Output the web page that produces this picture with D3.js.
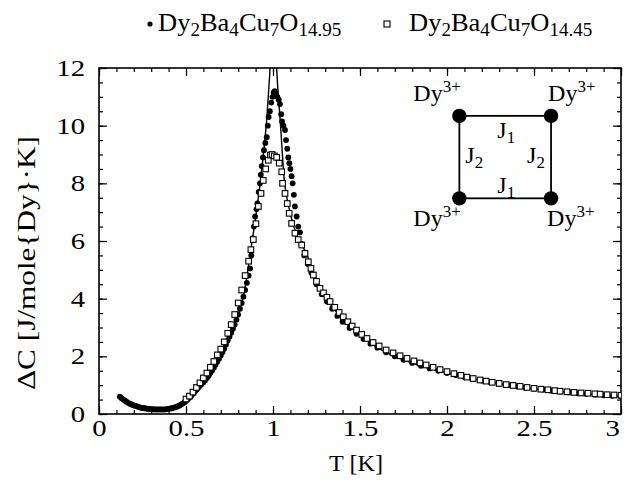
<!DOCTYPE html>
<html><head><meta charset="utf-8">
<script src="https://cdn.jsdelivr.net/npm/d3@7"></script>
<style>
body{margin:0;background:#fff}
svg{display:block}
text{font-family:"Liberation Serif","DejaVu Serif",serif;fill:#000}
</style>
</head><body>
<svg id="c" width="625" height="492"></svg>
<script>
// ---------- data ----------
const xTicks = [0, 0.5, 1, 1.5, 2, 2.5, 3];
const xTickLabels = ["0", "0.5", "1", "1.5", "2", "2.5", "3"];
const yTicks = [0, 2, 4, 6, 8, 10, 12];
const yTickLabels = ["0", "2", "4", "6", "8", "10", "12"];

// Dy2Ba4Cu7O14.95 (filled circles): [T, dC]
const series1495 = [
[0.12,0.60],[0.13,0.55],[0.14,0.50],[0.15,0.46],[0.16,0.42],[0.17,0.38],[0.18,0.35],[0.19,0.32],[0.20,0.30],
[0.21,0.28],[0.22,0.26],[0.23,0.24],[0.24,0.22],[0.25,0.21],[0.26,0.20],[0.27,0.19],[0.28,0.18],[0.29,0.175],
[0.30,0.17],[0.31,0.165],[0.32,0.16],[0.33,0.16],[0.34,0.16],[0.35,0.16],[0.36,0.16],[0.37,0.16],[0.38,0.16],
[0.39,0.17],[0.40,0.18],[0.41,0.19],[0.42,0.20],[0.43,0.22],[0.44,0.24],[0.45,0.26],[0.46,0.29],[0.47,0.32],
[0.48,0.36],[0.49,0.40],[0.50,0.45],[0.51,0.51],[0.52,0.57],[0.53,0.63],[0.54,0.70],[0.55,0.77],[0.56,0.84],
[0.57,0.91],[0.58,0.98],[0.59,1.04],[0.60,1.10],[0.61,1.17],[0.62,1.25],[0.63,1.33],[0.64,1.42],[0.65,1.51],
[0.66,1.60],[0.67,1.71],[0.68,1.82],[0.69,1.92],[0.70,2.03],[0.71,2.15],[0.72,2.27],[0.73,2.41],[0.74,2.55],
[0.75,2.68],[0.76,2.82],[0.77,2.96],[0.78,3.10],[0.79,3.27],[0.80,3.45],[0.81,3.65],[0.82,3.85],[0.83,4.07],
[0.84,4.30],[0.85,4.55],[0.86,4.80],[0.868,5.05],[0.875,5.50],[0.883,6.10],[0.89,6.50],[0.897,6.85],
[0.905,7.10],[0.91,7.30],[0.918,7.70],[0.925,8.00],[0.93,8.30],[0.935,8.60],[0.942,8.90],[0.948,9.15],
[0.956,9.40],[0.964,9.60],[0.97,10.0],[0.975,10.3],[0.982,10.5],[0.99,10.8],[0.997,11.0],[1.004,11.15],
[1.01,11.2],[1.018,11.1],[1.025,11.0],[1.033,10.9],[1.04,10.75],[1.047,10.4],[1.052,10.15],[1.06,10.0],
[1.069,9.85],[1.075,9.5],[1.082,9.2],[1.088,8.9],[1.094,8.7],[1.10,8.5],[1.107,8.25],[1.113,8.0],[1.12,7.6],
[1.126,7.2],[1.136,6.85],[1.145,6.5],[1.155,6.3],[1.165,5.9],[1.18,5.5],[1.20,5.2],[1.22,4.9],[1.25,4.5],
[1.28,4.15],[1.31,3.9],[1.34,3.65],[1.37,3.4],[1.40,3.2],[1.44,2.98],[1.48,2.78],[1.52,2.6],[1.56,2.44],
[1.60,2.3],[1.65,2.14],[1.70,2.0],[1.75,1.88],[1.80,1.77],[1.85,1.67],[1.90,1.58],[1.95,1.50],[2.00,1.42],
[2.05,1.35],[2.10,1.28],[2.15,1.22],[2.20,1.16],[2.25,1.10],[2.30,1.05],[2.35,1.00],[2.40,0.96],[2.45,0.92],
[2.50,0.88],[2.55,0.85],[2.60,0.81],[2.65,0.78],[2.70,0.75],[2.75,0.72],[2.80,0.70],[2.85,0.67],[2.90,0.65],
[2.95,0.63],[3.00,0.61]
];

// Dy2Ba4Cu7O14.45 (open squares): [T, dC]
const series1445 = [
[0.50,0.52],[0.52,0.62],
[0.54,0.76],[0.56,0.92],[0.58,1.08],[0.60,1.25],[0.62,1.42],[0.64,1.62],[0.66,1.82],[0.68,2.05],[0.70,2.25],
[0.72,2.50],[0.74,2.80],[0.76,3.10],[0.78,3.45],[0.80,3.85],[0.82,4.30],[0.84,4.80],[0.86,5.30],[0.873,5.70],
[0.887,6.05],[0.902,6.60],[0.916,7.20],[0.931,7.65],[0.944,8.10],[0.958,8.50],[0.973,8.80],[0.985,8.98],
[0.995,9.0],[1.008,8.95],[1.021,8.9],[1.036,8.7],[1.05,8.4],[1.055,8.0],[1.069,7.65],[1.082,7.3],[1.093,6.96],
[1.107,6.61],[1.126,6.27],[1.145,6.05],[1.165,5.86],[1.184,5.57],[1.203,5.28],[1.218,5.05],[1.232,4.82],
[1.25,4.6],[1.27,4.36],[1.29,4.2],[1.31,4.05],[1.328,3.9],[1.355,3.7],[1.38,3.52],[1.404,3.37],[1.43,3.2],
[1.455,3.05],[1.48,2.91],[1.51,2.76],[1.54,2.62],[1.575,2.48],[1.61,2.36],[1.65,2.22],[1.69,2.12],[1.73,2.02],
[1.77,1.93],[1.81,1.84],[1.845,1.77],[1.88,1.70],[1.92,1.62],[1.96,1.54],[2.00,1.47],[2.04,1.40],[2.08,1.34],
[2.115,1.28],[2.15,1.23],[2.19,1.18],[2.225,1.14],[2.26,1.10],[2.30,1.06],[2.34,1.02],[2.38,0.99],[2.42,0.96],
[2.46,0.92],[2.50,0.89],[2.54,0.86],[2.58,0.84],[2.62,0.81],[2.65,0.79],[2.69,0.77],[2.73,0.75],[2.77,0.73],
[2.81,0.72],[2.85,0.70],[2.88,0.69],[2.92,0.67],[2.96,0.66],[3.00,0.65]
];

// theory curve (solid line), two branches around the divergence at T = 1
const theoryLow = [
[0.13,0.55],[0.2,0.30],[0.3,0.17],[0.38,0.16],[0.45,0.27],[0.5,0.45],[0.55,0.77],[0.6,1.12],[0.65,1.52],
[0.7,2.05],[0.75,2.70],[0.8,3.45],[0.84,4.40],[0.87,5.60],[0.9,6.80],[0.93,8.20],[0.95,9.30],[0.965,10.3],
[0.977,11.4],[0.983,12.0],[0.99,13.5]
];
const theoryHigh = [
[1.013,13.5],[1.021,12.0],[1.03,11.1],[1.04,10.3],[1.065,8.1],[1.09,7.2],[1.12,6.5],[1.15,6.0],[1.19,5.6],
[1.23,4.95],[1.28,4.25],[1.35,3.65],[1.42,3.15],[1.5,2.75],[1.6,2.3],[1.7,2.0],[1.8,1.77],[1.9,1.58],
[2.0,1.42],[2.2,1.16],[2.4,0.96],[2.6,0.81],[2.8,0.70],[3.0,0.61]
];

// inset (spin plaquette) corners, in data units
const insetT = [2.071, 2.598];
const insetC = [10.34, 7.48];

// ---------- layout ----------
const FONT = '"Liberation Serif","DejaVu Serif",serif';
const WIDE = 1.25;   // the scanned type is set wider than Times
const svg = d3.select("#c");
const L = 99, R = 621, T0 = 68, B = 414;
const x = d3.scaleLinear().domain([0, 3]).range([L, R]);
const y = d3.scaleLinear().domain([0, 12]).range([B, T0]);

svg.append("defs").append("clipPath").attr("id", "clip")
  .append("rect").attr("x", L).attr("y", T0).attr("width", R - L).attr("height", B - T0);

const xMinor = d3.range(0, 3.0001, 0.1);
const yMinor = d3.range(0, 12.0001, 0.5);

function styleAxis(g) {
  g.attr("font-family", FONT);
  g.select(".domain").remove();
  g.selectAll(".tick line").attr("stroke", "#000").attr("stroke-width", 1.2);
  g.selectAll("text").style("font-family", FONT)
    .style("font-size", "23px").attr("fill", "#000");
}
// minor ticks
svg.append("g").attr("transform", `translate(0,${B})`)
  .call(d3.axisBottom(x).tickValues(xMinor).tickSize(-4).tickFormat("")).call(styleAxis);
svg.append("g").attr("transform", `translate(0,${T0})`)
  .call(d3.axisTop(x).tickValues(xMinor).tickSize(-4).tickFormat("")).call(styleAxis);
svg.append("g").attr("transform", `translate(${L},0)`)
  .call(d3.axisLeft(y).tickValues(yMinor).tickSize(-4).tickFormat("")).call(styleAxis);
svg.append("g").attr("transform", `translate(${R},0)`)
  .call(d3.axisRight(y).tickValues(yMinor).tickSize(-4).tickFormat("")).call(styleAxis);
// major ticks
const gx = svg.append("g").attr("transform", `translate(0,${B})`)
  .call(d3.axisBottom(x).tickValues(xTicks).tickSize(-8).tickPadding(6)
    .tickFormat((d, i) => xTickLabels[i])).call(styleAxis);
gx.selectAll(".tick text").attr("transform", `scale(${WIDE},1)`);
gx.selectAll(".tick text").filter(d => d === 3).attr("dx", -7);
svg.append("g").attr("transform", `translate(0,${T0})`)
  .call(d3.axisTop(x).tickValues(xTicks).tickSize(-8).tickFormat("")).call(styleAxis);
const gy = svg.append("g").attr("transform", `translate(${L},0)`)
  .call(d3.axisLeft(y).tickValues(yTicks).tickSize(-8).tickPadding(14)
    .tickFormat((d, i) => yTickLabels[i])).call(styleAxis);
gy.selectAll(".tick text").attr("x", -14 / WIDE).attr("transform", `scale(${WIDE},1)`);
svg.append("g").attr("transform", `translate(${R},0)`)
  .call(d3.axisRight(y).tickValues(yTicks).tickSize(-8).tickFormat("")).call(styleAxis);

// frame
svg.append("rect").attr("x", L).attr("y", T0).attr("width", R - L).attr("height", B - T0)
  .attr("fill", "none").attr("stroke", "#000").attr("stroke-width", 1.6);

// axis titles
svg.append("text").attr("transform", "translate(356,471) scale(1.05,1)").attr("text-anchor", "middle")
  .style("font-size", "23px").text("T [K]");
svg.append("text").attr("transform", "translate(35,263) rotate(-90) scale(1.25,1)").attr("text-anchor", "middle")
  .style("font-size", "25px").text("\u0394C [J/mole{Dy}\u00B7K]");

// ---------- marks ----------
const plot = svg.append("g").attr("clip-path", "url(#clip)");
plot.append("g").selectAll("circle").data(series1495).join("circle")
  .attr("cx", d => x(d[0])).attr("cy", d => y(d[1])).attr("r", 2.9).attr("fill", "#000");

const line = d3.line().x(d => x(d[0])).y(d => y(d[1])).curve(d3.curveMonotoneX);
[theoryLow, theoryHigh].forEach(arr => {
  plot.append("path").attr("d", line(arr)).attr("fill", "none")
    .attr("stroke", "#000").attr("stroke-width", 1.4);
});

const sq = 5.6;
plot.append("g").selectAll("rect").data(series1445).join("rect")
  .attr("x", d => x(d[0]) - sq / 2).attr("y", d => y(d[1]) - sq / 2)
  .attr("width", sq).attr("height", sq)
  .attr("fill", "#fff").attr("stroke", "#000").attr("stroke-width", 1.1);

// ---------- legend ----------
function chem(sel, parts, big, small) {
  let sub = false;
  parts.forEach(p => {
    const isSub = /^[0-9.]+$/.test(p);
    const t = sel.append("tspan").text(p).style("font-size", (isSub ? small : big) + "px");
    if (isSub && !sub) t.attr("dy", 5);
    if (!isSub && sub) t.attr("dy", -5);
    sub = isSub;
  });
}
const legendItems = [
  {label: ["Dy","2","Ba","4","Cu","7","O","14.95"], kind: "circle", mx: 150, tx: 158},
  {label: ["Dy","2","Ba","4","Cu","7","O","14.45"], kind: "square", mx: 387, tx: 409}
];
const lg = svg.append("g");
legendItems.forEach(it => {
  if (it.kind === "circle") lg.append("circle").attr("cx", it.mx).attr("cy", 24).attr("r", 2.6).attr("fill", "#000");
  else lg.append("rect").attr("x", it.mx - 3).attr("y", 21).attr("width", 6).attr("height", 6)
    .attr("fill", "#fff").attr("stroke", "#000").attr("stroke-width", 1.1);
  const t = lg.append("text").attr("transform", `translate(${it.tx},31) scale(1.06,1)`);
  chem(t, it.label, 25, 18);
});

// ---------- inset ----------
const ins = svg.append("g");
const xs = insetT.map(x), ys = insetC.map(y);
ins.append("rect").attr("x", xs[0]).attr("y", ys[0]).attr("width", xs[1] - xs[0]).attr("height", ys[1] - ys[0])
  .attr("fill", "none").attr("stroke", "#000").attr("stroke-width", 1.8);
[[0,0],[1,0],[0,1],[1,1]].forEach(([i, j]) => {
  ins.append("circle").attr("cx", xs[i]).attr("cy", ys[j]).attr("r", 7.2).attr("fill", "#000");
});
function dyLabel(px, py) {
  const t = ins.append("text").attr("x", px).attr("y", py).style("font-size", "24px");
  t.append("tspan").text("Dy");
  t.append("tspan").text("3+").attr("dy", -9).style("font-size", "17px");
}
dyLabel(xs[0] - 46, ys[0] - 15);
dyLabel(xs[1] - 3, ys[0] - 15);
dyLabel(xs[0] - 46, ys[1] + 28);
dyLabel(xs[1] - 4, ys[1] + 28);
function jLabel(px, py, s) {
  const t = ins.append("text").attr("x", px).attr("y", py).style("font-size", "24px");
  t.append("tspan").text("J");
  t.append("tspan").text(s).attr("dy", 5).style("font-size", "17px");
}
jLabel(xs[0] + 38, ys[0] + 22, "1");
jLabel(xs[0] + 38, ys[1] - 5, "1");
jLabel(xs[0] + 6, ys[0] + 47, "2");
jLabel(xs[1] - 24, ys[0] + 47, "2");
</script>
</body></html>
